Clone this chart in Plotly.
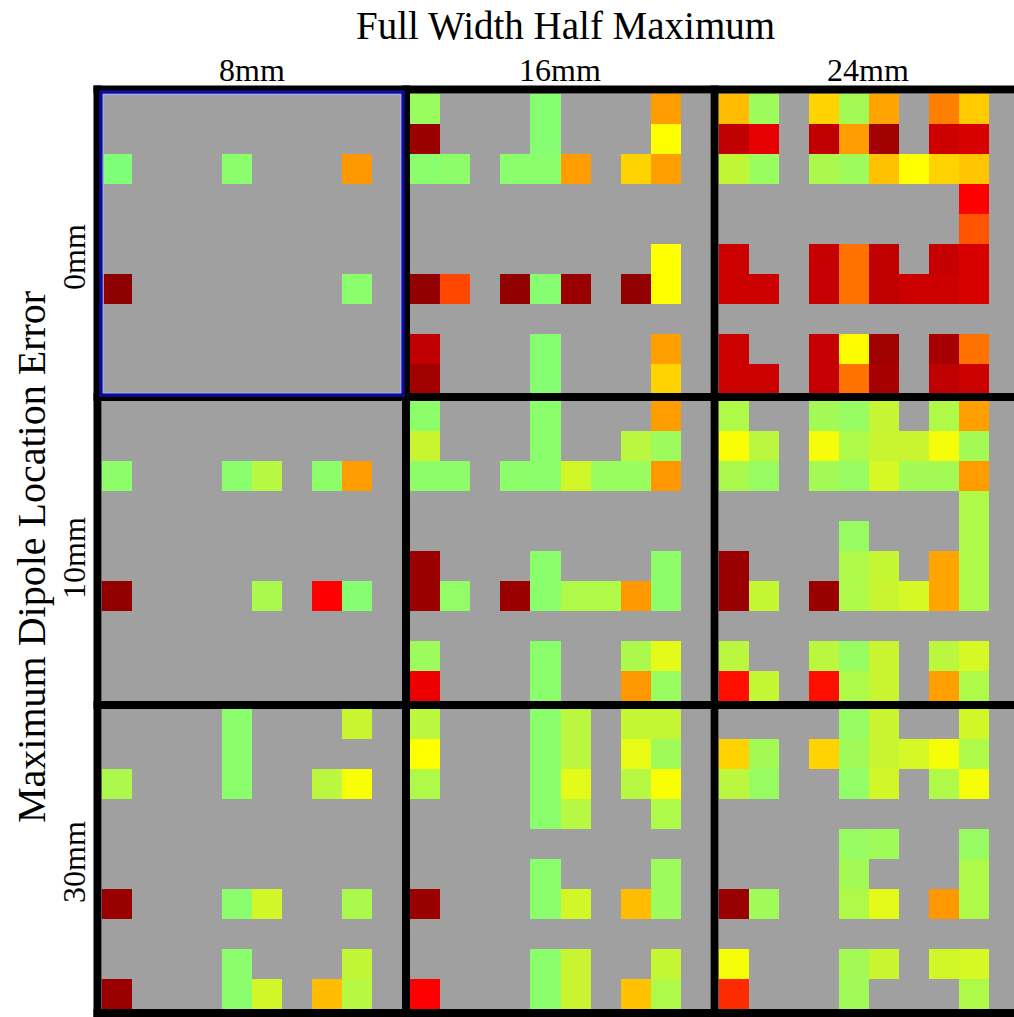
import plotly.graph_objects as go
from plotly.subplots import make_subplots

N = None  # no estimate for this cell (drawn as gray background)

fwhm_labels = ["8mm", "16mm", "24mm"]
error_labels = ["0mm", "10mm", "30mm"]

# ---- Maximum dipole location error 0mm ----
e0_f8 = [
    [N, N, N, N, N, N, N, N, N, N],
    [N, N, N, N, N, N, N, N, N, N],
    [1.00, N, N, N, 0.97, N, N, N, 0.44, N],
    [N, N, N, N, N, N, N, N, N, N],
    [N, N, N, N, N, N, N, N, N, N],
    [N, N, N, N, N, N, N, N, N, N],
    [0.02, N, N, N, N, N, N, N, 0.97, N],
    [N, N, N, N, N, N, N, N, N, N],
    [N, N, N, N, N, N, N, N, N, N],
    [N, N, N, N, N, N, N, N, N, N],
]
e0_f16 = [
    [0.93, N, N, N, 0.98, N, N, N, 0.45, N],
    [0.04, N, N, N, 0.98, N, N, N, 0.68, N],
    [0.97, 0.96, N, 0.97, 0.97, 0.45, N, 0.58, 0.46, N],
    [N, N, N, N, N, N, N, N, N, N],
    [N, N, N, N, N, N, N, N, N, N],
    [N, N, N, N, N, N, N, N, 0.68, N],
    [0.03, 0.30, N, 0.03, 0.98, 0.04, N, 0.03, 0.68, N],
    [N, N, N, N, N, N, N, N, N, N],
    [0.10, N, N, N, 0.98, N, N, N, 0.46, N],
    [0.05, N, N, N, 0.98, N, N, N, 0.58, N],
]
e0_f24 = [
    [0.53, 0.92, N, 0.58, 0.90, 0.47, N, 0.38, 0.56, N],
    [0.10, 0.16, N, 0.10, 0.45, 0.05, N, 0.12, 0.14, N],
    [0.82, 0.93, N, 0.88, 0.92, 0.54, 0.68, 0.58, 0.55, N],
    [N, N, N, N, N, N, N, N, 0.20, N],
    [N, N, N, N, N, N, N, N, 0.32, N],
    [0.12, N, N, 0.11, 0.36, 0.10, N, 0.11, 0.14, N],
    [0.12, 0.12, N, 0.11, 0.36, 0.10, 0.12, 0.12, 0.14, N],
    [N, N, N, N, N, N, N, N, N, N],
    [0.12, N, N, 0.11, 0.67, 0.05, N, 0.06, 0.36, N],
    [0.12, 0.12, N, 0.11, 0.36, 0.06, N, 0.10, 0.12, N],
]

# ---- Maximum dipole location error 10mm ----
e10_f8 = [
    [N, N, N, N, N, N, N, N, N, N],
    [N, N, N, N, N, N, N, N, N, N],
    [0.96, N, N, N, 0.97, 0.85, N, 0.96, 0.45, N],
    [N, N, N, N, N, N, N, N, N, N],
    [N, N, N, N, N, N, N, N, N, N],
    [N, N, N, N, N, N, N, N, N, N],
    [0.03, N, N, N, N, 0.88, N, 0.20, 0.98, N],
    [N, N, N, N, N, N, N, N, N, N],
    [N, N, N, N, N, N, N, N, N, N],
    [N, N, N, N, N, N, N, N, N, N],
]
e10_f16 = [
    [0.96, N, N, N, 0.97, N, N, N, 0.45, N],
    [0.80, N, N, N, 0.97, N, N, 0.84, 0.92, N],
    [0.96, 0.96, N, 0.96, 0.97, 0.78, 0.93, 0.93, 0.44, N],
    [N, N, N, N, N, N, N, N, N, N],
    [N, N, N, N, N, N, N, N, N, N],
    [0.04, N, N, N, 0.97, N, N, N, 0.96, N],
    [0.04, 0.95, N, 0.04, 0.97, 0.87, 0.87, 0.44, 0.96, N],
    [N, N, N, N, N, N, N, N, N, N],
    [0.92, N, N, N, 0.97, N, N, 0.88, 0.74, N],
    [0.17, N, N, N, 0.97, N, N, 0.44, 0.93, N],
]
e10_f24 = [
    [0.87, N, N, 0.90, 0.94, 0.81, N, 0.87, 0.46, N],
    [0.69, 0.84, N, 0.70, 0.87, 0.80, 0.80, 0.70, 0.90, N],
    [0.88, 0.94, N, 0.90, 0.94, 0.77, 0.90, 0.90, 0.45, N],
    [N, N, N, N, N, N, N, N, 0.87, N],
    [N, N, N, N, 0.94, N, N, N, 0.87, N],
    [0.04, N, N, N, 0.87, 0.81, N, 0.47, 0.87, N],
    [0.04, 0.81, N, 0.04, 0.87, 0.80, 0.77, 0.47, 0.87, N],
    [N, N, N, N, N, N, N, N, N, N],
    [0.84, N, N, 0.84, 0.94, 0.80, N, 0.84, 0.77, N],
    [0.22, 0.81, N, 0.22, 0.87, 0.80, N, 0.46, 0.87, N],
]

# ---- Maximum dipole location error 30mm ----
e30_f8 = [
    [N, N, N, N, 0.97, N, N, N, 0.80, N],
    [N, N, N, N, 0.97, N, N, N, N, N],
    [0.88, N, N, N, 0.97, N, N, 0.84, 0.69, N],
    [N, N, N, N, N, N, N, N, N, N],
    [N, N, N, N, N, N, N, N, N, N],
    [N, N, N, N, N, N, N, N, N, N],
    [0.04, N, N, N, 0.97, 0.78, N, N, 0.88, N],
    [N, N, N, N, N, N, N, N, N, N],
    [N, N, N, N, 0.97, N, N, N, 0.82, N],
    [0.04, N, N, N, 0.97, 0.78, N, 0.53, 0.85, N],
]
e30_f16 = [
    [0.84, N, N, N, 0.97, 0.84, N, 0.81, 0.81, N],
    [0.68, N, N, N, 0.97, 0.84, N, 0.73, 0.91, N],
    [0.87, N, N, N, 0.97, 0.74, N, 0.85, 0.69, N],
    [N, N, N, N, 0.97, 0.85, N, N, 0.87, N],
    [N, N, N, N, N, N, N, N, N, N],
    [N, N, N, N, 0.97, N, N, N, 0.92, N],
    [0.04, N, N, N, 0.97, 0.78, N, 0.53, 0.92, N],
    [N, N, N, N, N, N, N, N, N, N],
    [N, N, N, N, 0.97, 0.80, N, N, 0.81, N],
    [0.20, N, N, N, 0.97, 0.80, N, 0.54, 0.87, N],
]
e30_f24 = [
    [N, N, N, N, 0.94, 0.80, N, N, 0.78, N],
    [0.58, 0.90, N, 0.58, 0.91, 0.80, 0.77, 0.70, 0.87, N],
    [0.84, 0.94, N, N, 0.95, 0.78, N, 0.87, 0.70, N],
    [N, N, N, N, N, N, N, N, N, N],
    [N, N, N, N, 0.94, 0.91, N, N, 0.94, N],
    [N, N, N, N, 0.90, N, N, N, 0.87, N],
    [0.04, 0.91, N, N, 0.87, 0.74, N, 0.44, 0.87, N],
    [N, N, N, N, N, N, N, N, N, N],
    [0.70, N, N, N, 0.90, 0.80, N, 0.78, 0.77, N],
    [0.26, N, N, N, 0.91, N, N, N, 0.87, N],
]

panels = [
    [e0_f8, e0_f16, e0_f24],
    [e10_f8, e10_f16, e10_f24],
    [e30_f8, e30_f16, e30_f24],
]

# dark red -> red -> orange -> yellow -> light green
colorscale = [
    [0.00, "#800000"],
    [0.10, "#C00000"],
    [0.20, "#FF0000"],
    [0.38, "#FF8000"],
    [0.52, "#FFB800"],
    [0.68, "#FFFF00"],
    [0.80, "#C8F530"],
    [1.00, "#80FF78"],
]

W, H = 1014, 1017


def px_x(x):
    return x / W


def px_y(y):
    return 1 - y / H


# panel interiors in pixels
col_px = [(101.5, 402.0), (410.0, 710.5), (718.5, 1019.0)]
row_px = [(93.5, 393.0), (401.0, 701.0), (709.0, 1009.0)]
line_x = [97.5, 406.0, 714.5, 1023.0]
line_y = [89.5, 397.0, 705.0, 1013.0]
cell = 30.05

fig = make_subplots(rows=3, cols=3, horizontal_spacing=0, vertical_spacing=0)

for r in range(3):
    for c in range(3):
        fig.add_trace(
            go.Heatmap(
                z=panels[r][c],
                x=list(range(10)),
                y=list(range(10)),
                colorscale=colorscale,
                zmin=0,
                zmax=1,
                showscale=False,
                hoverongaps=False,
            ),
            row=r + 1,
            col=c + 1,
        )
        x0, x1 = col_px[c]
        y0, y1 = row_px[r]
        x1c = min(x1, W)
        xr = [-0.5, -0.5 + (x1c - x0) / cell]
        fig.update_xaxes(
            domain=[px_x(x0), px_x(x1c)], range=xr,
            showticklabels=False, showgrid=False, zeroline=False,
            ticks="", fixedrange=True,
            row=r + 1, col=c + 1,
        )
        fig.update_yaxes(
            domain=[px_y(y1), px_y(y0)], range=[9.5, -0.5],
            showticklabels=False, showgrid=False, zeroline=False,
            ticks="", fixedrange=True,
            row=r + 1, col=c + 1,
        )

shapes = []
# black grid separating the panels
for x in line_x:
    shapes.append(dict(type="line", xref="paper", yref="paper",
                       x0=px_x(x), x1=px_x(x), y0=px_y(85.5), y1=px_y(1017 + 5),
                       line=dict(color="black", width=8)))
for y in line_y:
    shapes.append(dict(type="line", xref="paper", yref="paper",
                       x0=px_x(93.5), x1=px_x(1014 + 5), y0=px_y(y), y1=px_y(y),
                       line=dict(color="black", width=8)))
# highlighted panel outline
shapes.append(dict(type="rect", xref="paper", yref="paper",
                   x0=px_x(101.0), x1=px_x(403.0), y0=px_y(395.0), y1=px_y(92.0),
                   line=dict(color="#0C0C9C", width=3.5)))
shapes.append(dict(type="rect", xref="paper", yref="paper",
                   x0=px_x(103.3), x1=px_x(400.7), y0=px_y(392.8), y1=px_y(94.3),
                   line=dict(color="#A6A6F2", width=1.2)))

font_family = "Liberation Serif, Times New Roman, serif"
annotations = [
    dict(text="Full Width Half Maximum", x=px_x(565), y=px_y(26),
         xref="paper", yref="paper", showarrow=False,
         xanchor="center", yanchor="middle",
         font=dict(family=font_family, size=39, color="black")),
    dict(text="Maximum Dipole Location Error", x=px_x(31), y=px_y(557),
         xref="paper", yref="paper", showarrow=False, textangle=-90,
         xanchor="center", yanchor="middle",
         font=dict(family=font_family, size=40, color="black")),
]
col_centers = [252, 560, 868]
for lab, cx in zip(fwhm_labels, col_centers):
    annotations.append(dict(text=lab, x=px_x(cx), y=px_y(70), xref="paper", yref="paper",
                            showarrow=False, xanchor="center", yanchor="middle",
                            font=dict(family=font_family, size=32, color="black")))
row_centers = [257, 558, 862]
for lab, cy in zip(error_labels, row_centers):
    annotations.append(dict(text=lab, x=px_x(74), y=px_y(cy), xref="paper", yref="paper",
                            showarrow=False, textangle=-90, xanchor="center", yanchor="middle",
                            font=dict(family=font_family, size=32, color="black")))

fig.update_layout(
    width=W,
    height=H,
    margin=dict(l=0, r=0, t=0, b=0),
    paper_bgcolor="white",
    plot_bgcolor="#A0A0A0",
    shapes=shapes,
    annotations=annotations,
    showlegend=False,
)

fig.write_html("out.html")
